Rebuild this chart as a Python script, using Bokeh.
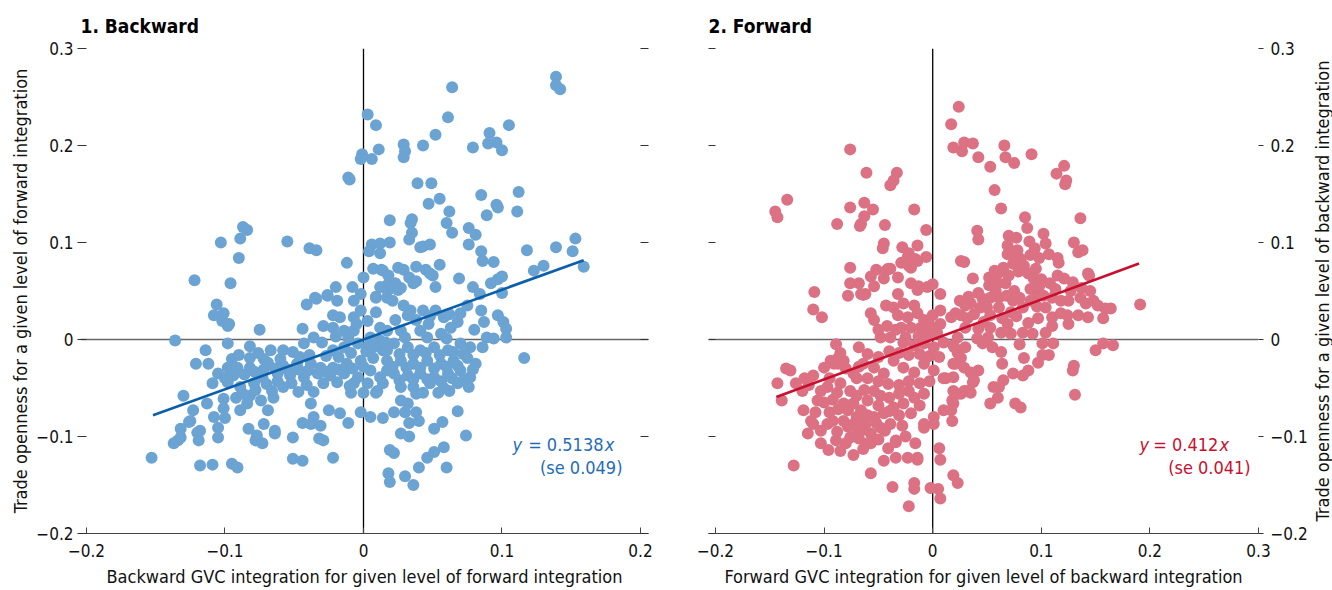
import math
from bokeh.plotting import figure
from bokeh.models import LinearAxis, FixedTicker, Span, Label, Range1d, CustomJSTickFormatter
from bokeh.layouts import row
from bokeh.embed import file_html
from bokeh.resources import INLINE

FONT = "'Liberation Sans Narrow', 'DejaVu Sans Condensed', 'Roboto', sans-serif"

# ---------------- data ----------------
backward_points = [
    (0.139, 0.271), (0.139, 0.262), (0.142, 0.258), (0.064, 0.260), (0.003, 0.232), (0.009, 0.221),
    (0.061, 0.229), (0.052, 0.211), (0.043, 0.200), (0.029, 0.201), (0.030, 0.194), (0.029, 0.188),
    (0.011, 0.196), (0.006, 0.186), (-0.001, 0.191), (-0.002, 0.186), (-0.011, 0.167), (-0.010, 0.165),
    (0.079, 0.198), (0.091, 0.213), (0.090, 0.202), (0.096, 0.203), (0.100, 0.195), (0.105, 0.221),
    (0.039, 0.161), (0.049, 0.161), (0.047, 0.140), (0.055, 0.145), (0.062, 0.132), (0.085, 0.149),
    (0.112, 0.152), (0.096, 0.139), (0.097, 0.136), (0.089, 0.128), (0.111, 0.132),
    (0.019, 0.123), (0.035, 0.124), (0.034, 0.120), (0.035, 0.110), (0.033, 0.103), (0.060, 0.120),
    (0.064, 0.110), (0.076, 0.115), (0.081, 0.108), (0.076, 0.098), (0.085, 0.091), (0.086, 0.081),
    (0.094, 0.080), (0.118, 0.092), (0.139, 0.095), (0.151, 0.091), (0.153, 0.104), (0.159, 0.075),
    (0.123, 0.071), (0.130, 0.076),
    (0.006, 0.098), (0.012, 0.099), (0.019, 0.100), (0.004, 0.091), (0.012, 0.089), (0.043, 0.096),
    (0.048, 0.098), (0.041, 0.095), (-0.039, 0.094), (-0.034, 0.092), (-0.012, 0.079), (0.000, 0.064),
    (0.007, 0.073), (0.013, 0.072), (0.018, 0.066), (0.025, 0.074), (0.029, 0.072), (0.038, 0.075),
    (0.045, 0.072), (0.050, 0.066), (0.055, 0.077), (0.033, 0.064), (0.038, 0.060), (0.017, 0.056),
    (0.023, 0.058), (0.025, 0.051), (0.017, 0.051), (0.052, 0.054), (0.069, 0.063), (0.079, 0.054),
    (0.084, 0.047), (0.092, 0.058), (0.097, 0.062), (0.100, 0.065), (0.100, 0.048), (0.048, 0.068),
    (0.036, 0.058), (0.027, 0.053),
    (-0.020, 0.054), (-0.008, 0.054), (-0.002, 0.047), (-0.035, 0.043), (-0.026, 0.046), (0.009, 0.044),
    (0.014, 0.071), (0.012, 0.054), (0.017, 0.043), (0.009, 0.043), (0.009, 0.028),
    (-0.087, 0.116), (-0.084, 0.113), (-0.089, 0.104), (-0.103, 0.100), (-0.055, 0.101), (-0.090, 0.084),
    (-0.122, 0.061), (-0.096, 0.058),
    (-0.106, 0.036), (-0.108, 0.025), (-0.101, 0.027), (-0.098, 0.014), (-0.102, 0.019), (-0.097, 0.016),
    (-0.075, 0.010), (-0.136, -0.001), (-0.098, -0.004), (-0.082, -0.007), (-0.114, -0.011),
    (-0.121, -0.025), (-0.112, -0.025),
    (-0.041, 0.036), (-0.034, 0.042), (-0.026, 0.045), (-0.019, 0.040), (-0.007, 0.040), (-0.022, 0.025),
    (-0.017, 0.023), (-0.007, 0.023), (-0.002, 0.030), (-0.029, 0.014), (-0.022, 0.012), (-0.014, 0.009),
    (-0.044, 0.011), (-0.007, 0.009),
    (-0.105, -0.035), (-0.109, -0.045), (-0.098, -0.029), (-0.095, -0.020), (-0.090, -0.016),
    (-0.098, -0.044), (-0.091, -0.029), (-0.082, -0.019), (-0.076, -0.014), (-0.067, -0.011),
    (-0.058, -0.011), (-0.051, -0.013), (-0.043, -0.004), (-0.036, 0.002), (-0.030, -0.003),
    (-0.022, -0.011), (-0.014, -0.008), (-0.004, -0.004), (-0.082, -0.029), (-0.069, -0.024),
    (-0.058, -0.027), (-0.048, -0.025), (-0.038, -0.025), (-0.031, -0.029), (-0.022, -0.029),
    (-0.012, -0.025), (-0.002, -0.022), (0.007, -0.019), (0.014, -0.011), (-0.073, -0.039),
    (-0.062, -0.035), (-0.053, -0.037), (-0.043, -0.039), (-0.033, -0.035), (-0.024, -0.037),
    (-0.014, -0.035), (-0.004, -0.039), (0.005, -0.032), (0.012, -0.039), (-0.089, -0.049),
    (-0.079, -0.045), (-0.066, -0.053), (-0.058, -0.049), (-0.047, -0.054), (-0.036, -0.054),
    (-0.007, -0.045), (0.003, -0.045), (0.010, -0.053), (-0.130, -0.058), (-0.113, -0.066),
    (-0.101, -0.061), (-0.092, -0.060), (-0.082, -0.058), (-0.101, -0.071), (-0.089, -0.073),
    (-0.084, -0.066), (-0.069, -0.073), (-0.074, -0.063), (-0.065, -0.060), (-0.038, -0.066),
    (-0.009, -0.055), (0.000, -0.055), (-0.123, -0.073), (-0.125, -0.084), (-0.108, -0.080),
    (-0.100, -0.081), (-0.132, -0.092), (-0.118, -0.094), (-0.105, -0.091), (-0.134, -0.104),
    (-0.137, -0.107), (-0.119, -0.104), (-0.105, -0.101), (-0.083, -0.092), (-0.078, -0.104),
    (-0.073, -0.107), (-0.072, -0.087), (-0.064, -0.094), (-0.051, -0.101), (-0.044, -0.086),
    (-0.036, -0.080), (-0.038, -0.087), (-0.031, -0.089), (-0.032, -0.102), (-0.029, -0.104),
    (-0.025, -0.073), (-0.017, -0.076), (-0.011, -0.086), (-0.002, -0.075), (0.005, -0.080),
    (0.014, -0.081), (-0.022, -0.122), (-0.051, -0.123), (-0.044, -0.125), (-0.153, -0.122),
    (-0.118, -0.130), (-0.109, -0.129), (-0.095, -0.128), (-0.091, -0.132), (0.019, -0.114),
    (0.018, -0.138), (0.019, -0.147),
    (-0.126, -0.085), (-0.132, -0.101), (-0.120, -0.096), (-0.077, -0.099), (-0.064, -0.097),
    (0.021, 0.053), (0.021, 0.040), (0.029, 0.035), (0.034, 0.030), (0.043, 0.030), (0.052, 0.030),
    (0.023, 0.020), (0.038, 0.020), (0.047, 0.016), (0.058, 0.023), (0.068, 0.018), (0.070, 0.027),
    (0.087, 0.018), (0.097, 0.025), (0.101, 0.018), (0.103, 0.011), (0.103, 0.002), (0.089, 0.002),
    (0.094, 0.001), (0.086, -0.008), (0.116, -0.019), (0.012, 0.012), (0.017, 0.009), (0.027, 0.009),
    (0.041, 0.009), (0.056, 0.006), (0.063, 0.012),
    (0.022, -0.004), (0.032, -0.008), (0.041, -0.011), (0.051, -0.008), (0.061, -0.011), (0.070, -0.004),
    (0.077, -0.008), (0.017, -0.022), (0.027, -0.022), (0.036, -0.025), (0.046, -0.022), (0.056, -0.025),
    (0.065, -0.022), (0.075, -0.019), (0.081, -0.025), (0.022, -0.035), (0.032, -0.037), (0.041, -0.035),
    (0.051, -0.039), (0.061, -0.035), (0.070, -0.032), (0.077, -0.039), (0.027, -0.049), (0.036, -0.049),
    (0.048, -0.045), (0.058, -0.050), (0.068, -0.045), (0.076, -0.049), (0.038, -0.056), (0.054, -0.055),
    (0.014, -0.045), (0.027, -0.063), (0.032, -0.066), (0.022, -0.075), (0.030, -0.075), (0.038, -0.075),
    (0.033, -0.086), (0.040, -0.084), (0.068, -0.074), (0.057, -0.085), (0.051, -0.092), (0.027, -0.097),
    (0.033, -0.100), (0.074, -0.099), (0.022, -0.117), (0.046, -0.122), (0.051, -0.116), (0.058, -0.111),
    (0.040, -0.132), (0.060, -0.132), (0.030, -0.141), (0.036, -0.150),
    (0.005, 0.002), (0.012, -0.001), (0.017, -0.011), (0.007, -0.008), (0.017, -0.032), (0.009, -0.055),
    (-0.100, -0.040), (-0.094, -0.037), (-0.086, -0.036), (-0.079, -0.033), (-0.072, -0.031),
    (-0.064, -0.030), (-0.055, -0.031), (-0.047, -0.031), (-0.040, -0.032), (-0.028, -0.033),
    (-0.018, -0.031), (-0.008, -0.030), (0.000, -0.028), (-0.087, -0.056), (-0.078, -0.052),
    (-0.070, -0.046), (-0.062, -0.043), (-0.052, -0.045), (-0.041, -0.047), (-0.029, -0.045),
    (-0.019, -0.044), (-0.010, -0.048), (-0.046, -0.018), (-0.039, -0.016), (-0.027, -0.017),
    (-0.018, -0.018), (-0.009, -0.014), (0.002, -0.012), (-0.060, -0.020), (-0.072, -0.020),
    (-0.011, 0.002), (-0.020, 0.003), (-0.005, 0.016), (0.003, 0.019), (0.004, -0.006),
    (0.026, -0.015), (0.036, -0.016), (0.045, -0.014), (0.055, -0.016), (0.065, -0.013), (0.072, -0.015),
    (0.031, -0.029), (0.041, -0.029), (0.051, -0.030), (0.060, -0.028), (0.068, -0.027), (0.079, -0.031),
    (0.026, -0.042), (0.036, -0.041), (0.046, -0.041), (0.056, -0.043), (0.064, -0.040), (0.072, -0.042),
    (0.043, -0.055), (0.062, -0.053), (0.021, -0.028), (0.016, -0.003), (0.030, 0.002), (0.046, 0.002),
    (0.060, 0.001), (0.032, 0.025), (0.048, 0.024), (0.062, 0.026), (0.080, 0.010), (0.075, 0.035),
    (0.085, 0.030),
]

forward_points = [
    (0.024, 0.240), (0.017, 0.222), (0.019, 0.198), (0.027, 0.194), (0.029, 0.203), (0.037, 0.202),
    (0.042, 0.188), (0.053, 0.178), (0.057, 0.154), (0.063, 0.135), (0.042, 0.103), (0.029, 0.080),
    (0.037, 0.063), (-0.076, 0.196), (-0.061, 0.172), (-0.033, 0.172), (-0.036, 0.164), (-0.039, 0.159),
    (-0.134, 0.144), (-0.145, 0.132), (-0.143, 0.126), (-0.076, 0.136), (-0.063, 0.141), (-0.055, 0.134),
    (-0.063, 0.127), (-0.067, 0.117), (-0.088, 0.119), (-0.044, 0.118), (-0.017, 0.134), (-0.006, 0.113),
    (-0.045, 0.099), (-0.046, 0.094), (-0.028, 0.095), (-0.014, 0.097), (-0.022, 0.089), (-0.006, 0.085),
    (-0.029, 0.079), (-0.022, 0.076), (-0.016, 0.083), (-0.076, 0.074), (-0.052, 0.072), (-0.041, 0.073),
    (-0.057, 0.065), (-0.032, 0.064), (-0.076, 0.058), (-0.068, 0.058), (-0.054, 0.055), (-0.109, 0.049),
    (-0.078, 0.045), (-0.066, 0.047), (-0.062, 0.047), (-0.032, 0.047), (-0.020, 0.058), (-0.013, 0.055),
    (0.000, 0.057), (0.007, 0.047),
    (-0.066, 0.119), (-0.023, 0.085), (-0.020, 0.074), (-0.014, 0.081), (-0.043, 0.071), (-0.039, 0.073),
    (-0.045, 0.063), (-0.064, 0.046),
    (-0.110, 0.031), (-0.102, 0.023), (-0.014, 0.051), (-0.005, 0.054), (-0.057, 0.027), (-0.054, 0.020),
    (-0.043, 0.035), (-0.036, 0.033), (-0.027, 0.037), (-0.017, 0.035), (-0.032, 0.025), (-0.023, 0.023),
    (-0.014, 0.027), (-0.008, 0.020), (0.000, 0.025), (0.007, 0.030), (-0.029, 0.012), (-0.020, 0.012),
    (-0.011, 0.012), (-0.002, 0.014), (0.007, 0.016), (0.017, 0.023), (-0.048, 0.002), (-0.039, 0.002),
    (-0.089, -0.005), (-0.068, -0.008), (-0.027, -0.003), (-0.017, -0.006), (-0.008, -0.004),
    (0.001, -0.008), (0.010, -0.003), (0.019, -0.006), (-0.085, -0.014), (-0.094, -0.022),
    (-0.087, -0.025), (-0.082, -0.022), (-0.100, -0.029), (-0.110, -0.037), (-0.114, -0.047),
    (-0.135, -0.030), (-0.131, -0.032), (-0.143, -0.045), (-0.139, -0.063), (-0.119, -0.073),
    (-0.112, -0.084), (-0.115, -0.097), (-0.110, -0.087), (-0.103, -0.094), (-0.097, -0.087),
    (-0.092, -0.084), (-0.103, -0.107), (-0.096, -0.114), (-0.089, -0.104), (-0.080, -0.107),
    (-0.073, -0.119), (-0.128, -0.130), (-0.068, -0.102), (-0.060, -0.107), (-0.103, -0.053),
    (-0.097, -0.049), (-0.106, -0.063), (-0.085, -0.045), (-0.076, -0.053), (-0.064, -0.025),
    (-0.054, -0.029), (-0.045, -0.035), (-0.036, -0.022), (-0.027, -0.029), (-0.017, -0.034),
    (-0.008, -0.025), (0.001, -0.032), (0.010, -0.040), (-0.082, -0.066), (-0.078, -0.073),
    (-0.073, -0.066), (-0.066, -0.073), (-0.060, -0.063), (-0.054, -0.053), (-0.082, -0.084),
    (-0.073, -0.087), (-0.064, -0.084), (-0.054, -0.080), (-0.045, -0.076), (-0.036, -0.070),
    (-0.027, -0.066), (-0.017, -0.060), (-0.008, -0.056), (-0.066, -0.094), (-0.057, -0.097),
    (-0.048, -0.091), (-0.039, -0.087), (-0.076, -0.101), (-0.057, -0.107), (-0.028, -0.089),
    (-0.034, -0.104), (-0.016, -0.107), (-0.041, -0.112), (-0.034, -0.122), (-0.023, -0.122),
    (-0.014, -0.122), (-0.057, -0.138), (-0.037, -0.152), (-0.017, -0.148), (-0.017, -0.154),
    (-0.022, -0.172), (-0.002, -0.153), (0.007, -0.164), (0.005, -0.154), (0.006, -0.112),
    (0.007, -0.124), (-0.008, -0.087), (0.001, -0.080), (0.010, -0.073), (0.019, -0.066),
    (0.019, -0.140), (0.023, -0.148), (0.012, -0.040), (0.019, -0.053), (0.019, -0.025), (0.023, -0.014),
    (-0.014, -0.124), (-0.034, -0.106), (0.001, -0.087), (-0.008, -0.091), (-0.091, -0.025), (-0.087, -0.019),
    (0.085, 0.126), (0.087, 0.115), (0.070, 0.107), (0.077, 0.105), (0.069, 0.097), (0.069, 0.088),
    (0.078, 0.092), (0.081, 0.083), (0.089, 0.101), (0.090, 0.087), (0.084, 0.076), (0.095, 0.073),
    (0.093, 0.063), (0.065, 0.074), (0.102, 0.109), (0.104, 0.099), (0.107, 0.088), (0.115, 0.084),
    (0.116, 0.079), (0.130, 0.100), (0.134, 0.090), (0.138, 0.092), (0.136, 0.125), (0.115, 0.066),
    (0.121, 0.063), (0.129, 0.059), (0.143, 0.068), (0.144, 0.066), (0.096, 0.046), (0.052, 0.056),
    (0.060, 0.058), (0.067, 0.058), (0.058, 0.050), (0.053, 0.043), (0.061, 0.043), (0.046, 0.042),
    (0.044, 0.033), (0.035, 0.037), (0.030, 0.035), (0.083, 0.033), (0.104, 0.033), (0.102, 0.045),
    (0.110, 0.043), (0.118, 0.040), (0.125, 0.040), (0.136, 0.043), (0.141, 0.037), (0.148, 0.040),
    (0.152, 0.035), (0.159, 0.032), (0.164, 0.032), (0.157, 0.022), (0.110, 0.023), (0.118, 0.027),
    (0.124, 0.025), (0.125, 0.016), (0.134, 0.025), (0.143, 0.023), (0.110, 0.014), (0.191, 0.036),
    (0.021, 0.027), (0.026, 0.025), (0.032, 0.022), (0.030, 0.012), (0.053, 0.025), (0.064, 0.022),
    (0.069, 0.016), (0.072, 0.006), (0.063, 0.007), (0.053, 0.012), (0.047, 0.018), (0.042, 0.011),
    (0.041, 0.001), (0.046, -0.004), (0.051, 0.002), (0.055, -0.008), (0.063, -0.013), (0.083, 0.007),
    (0.104, 0.007), (0.101, -0.004), (0.111, -0.004), (0.023, 0.002), (0.020, -0.008), (0.030, -0.008),
    (0.026, -0.019), (0.021, -0.025), (0.029, -0.029), (0.035, -0.034), (0.037, -0.044), (0.029, -0.053),
    (0.023, -0.056), (0.035, -0.055), (0.019, -0.039), (0.018, -0.063), (0.017, -0.073), (0.018, -0.084),
    (0.064, -0.025), (0.084, -0.019), (0.065, -0.042), (0.074, -0.035), (0.083, -0.037), (0.088, -0.032),
    (0.097, -0.024), (0.101, -0.016), (0.107, -0.016), (0.056, -0.049), (0.060, -0.060), (0.053, -0.066),
    (0.076, -0.066), (0.081, -0.070), (0.130, -0.027), (0.129, -0.032), (0.131, -0.057), (0.150, -0.011),
    (0.157, -0.004), (0.166, -0.006),
    (0.066, 0.200), (0.067, 0.188), (0.075, 0.182), (0.091, 0.191), (0.121, 0.179), (0.114, 0.171),
    (0.123, 0.164), (0.122, 0.160), (0.041, 0.112), (0.026, 0.081),
    (0.061, -0.049), (0.042, -0.032), (0.038, -0.042), (0.032, -0.053), (0.026, -0.056),
    (-0.050, 0.010), (-0.042, 0.014), (-0.034, 0.010), (-0.025, 0.002), (-0.013, 0.003), (-0.004, 0.005),
    (0.004, 0.007), (-0.060, -0.015), (-0.050, -0.018), (-0.040, -0.012), (-0.031, -0.014),
    (-0.022, -0.016), (-0.012, -0.015), (-0.003, -0.017), (0.006, -0.018), (-0.070, -0.040),
    (-0.060, -0.040), (-0.050, -0.043), (-0.041, -0.046), (-0.031, -0.047), (-0.022, -0.043),
    (-0.012, -0.045), (-0.003, -0.043), (-0.092, -0.062), (-0.088, -0.055), (-0.070, -0.058),
    (-0.063, -0.052), (-0.048, -0.058), (-0.040, -0.060), (-0.031, -0.056), (-0.022, -0.053),
    (-0.095, -0.075), (-0.087, -0.072), (-0.070, -0.080), (-0.060, -0.078), (-0.050, -0.068),
    (-0.040, -0.074), (-0.031, -0.078), (-0.020, -0.076), (-0.012, -0.068), (-0.088, -0.095),
    (-0.078, -0.090), (-0.070, -0.092), (-0.062, -0.088), (-0.052, -0.086), (-0.044, -0.094),
    (-0.085, -0.115), (-0.064, -0.113), (-0.050, -0.103), (-0.045, -0.125), (-0.025, -0.100),
    (-0.100, -0.065), (-0.108, -0.075), (-0.120, -0.053), (-0.126, -0.045), (-0.118, -0.040),
    (-0.095, -0.040), (-0.080, -0.030), (-0.073, -0.035), (-0.068, -0.028),
    (0.060, 0.068), (0.070, 0.066), (0.079, 0.070), (0.074, 0.078), (0.088, 0.068), (0.100, 0.062),
    (0.108, 0.058), (0.098, 0.055), (0.090, 0.052), (0.075, 0.050), (0.068, 0.045), (0.080, 0.043),
    (0.090, 0.040), (0.096, 0.034), (0.113, 0.052), (0.127, 0.050), (0.137, 0.053), (0.145, 0.050),
    (0.097, 0.022), (0.088, 0.017), (0.077, 0.024), (0.092, 0.006), (0.080, -0.005), (0.074, 0.040),
    (0.061, 0.033), (0.072, 0.028), (0.050, 0.033), (0.038, 0.026), (0.042, 0.048), (0.033, 0.044),
    (0.025, 0.040), (0.052, 0.064), (0.057, 0.071), (0.075, 0.090), (0.098, 0.084), (0.094, 0.094),
]

backward_slope = 0.5138
forward_slope = 0.412
backward_fit_x = [-0.152, 0.159]
forward_fit_x = [-0.144, 0.190]

y_ticks = [-0.2, -0.1, 0.0, 0.1, 0.2, 0.3]
backward_x_ticks = [-0.2, -0.1, 0.0, 0.1, 0.2]
forward_x_ticks = [-0.2, -0.1, 0.0, 0.1, 0.2, 0.3]

titles = ["1. Backward", "2. Forward"]
x_labels = ["Backward GVC integration for given level of forward integration",
            "Forward GVC integration for given level of backward integration"]
y_labels = ["Trade openness for a given level of forward integration",
            "Trade openness for a given level of backward integration"]
eq_slopes = ["= 0.5138", "= 0.412"]
eq_se = ["(se 0.049)", "(se 0.041)"]

BACK_PT, BACK_LINE, BACK_TEXT = "#6BA3D3", "#0B5FAA", "#1F6DB6"
FWD_PT, FWD_LINE, FWD_TEXT = "#DC7183", "#C8102E", "#C8102E"

fmt = CustomJSTickFormatter(code="""
    if (Math.abs(tick) < 1e-9) { return '0'; }
    return (tick < 0 ? '\u2212' : '') + Math.abs(tick).toFixed(1);
""")
blank_fmt = CustomJSTickFormatter(code="return '';")

TICK_SIZE = "17px"
LAB_SIZE = "18px"


def style_bottom(ax, ticks, label):
    ax.ticker = FixedTicker(ticks=ticks)
    ax.formatter = fmt
    ax.axis_line_color = "#444444"
    ax.major_tick_line_color = "#444444"
    ax.major_tick_in = 6
    ax.major_tick_out = 0
    ax.minor_tick_line_color = None
    ax.major_label_text_font = FONT
    ax.major_label_text_font_size = TICK_SIZE
    ax.major_label_text_color = "#111111"
    ax.major_label_standoff = 10
    ax.axis_label = label
    ax.axis_label_text_font = FONT
    ax.axis_label_text_font_size = LAB_SIZE
    ax.axis_label_text_font_style = "normal"
    ax.axis_label_text_color = "#111111"
    ax.axis_label_standoff = 6


def style_y(ax, tick_in, tick_out, label=None, show_labels=True, label_standoff=10, tick_standoff=4):
    ax.ticker = FixedTicker(ticks=y_ticks)
    ax.axis_line_color = None
    ax.major_tick_line_color = "#333333"
    ax.major_tick_in = tick_in
    ax.major_tick_out = tick_out
    ax.minor_tick_line_color = None
    ax.major_label_text_font = FONT
    ax.major_label_text_color = "#111111"
    ax.major_label_text_font_size = TICK_SIZE
    if show_labels:
        ax.formatter = fmt
        ax.major_label_standoff = tick_standoff
    else:
        ax.formatter = blank_fmt
        ax.major_label_standoff = 0
    if label:
        ax.axis_label = label
        ax.axis_label_text_font = FONT
        ax.axis_label_text_font_size = LAB_SIZE
        ax.axis_label_text_font_style = "normal"
        ax.axis_label_text_color = "#111111"
        ax.axis_label_standoff = label_standoff


def base_fig(width, x_range, mbl, mbr, title):
    p = figure(width=width, height=590, x_range=x_range, y_range=Range1d(-0.2, 0.3),
               output_backend="svg", toolbar_location=None,
               min_border_left=mbl, min_border_right=mbr, min_border_top=48, min_border_bottom=57,
               x_axis_location=None, y_axis_location=None)
    p.grid.visible = False
    p.outline_line_color = None
    p.background_fill_color = "white"
    p.border_fill_color = "white"
    p.title.text = title
    p.title.text_font = FONT
    p.title.text_font_size = "19px"
    p.title.text_font_style = "bold"
    p.title.text_color = "#000000"
    p.title.align = "left"
    p.title.standoff = 23
    p.add_layout(Span(location=0, dimension="width", line_color="#666666", line_width=1.3, level="underlay"))
    p.add_layout(Span(location=0, dimension="height", line_color="#000000", line_width=1.3, level="underlay"))
    return p


# ---------------- left panel ----------------
bx = [pt[0] for pt in backward_points]
by = [pt[1] for pt in backward_points]
p1 = base_fig(668, Range1d(-0.20433, 0.20578), 80, 20, titles[0])
bax = LinearAxis()
style_bottom(bax, backward_x_ticks, x_labels[0])
p1.add_layout(bax, "below")
lax = LinearAxis()
style_y(lax, 6, 3, y_labels[0], True, 2, 4)
p1.add_layout(lax, "left")
rax = LinearAxis()
style_y(rax, 8, 0, None, False)
p1.add_layout(rax, "right")

p1.scatter(x=bx, y=by, size=12, fill_color=BACK_PT, line_color=None)
p1.line(x=backward_fit_x, y=[backward_slope * v for v in backward_fit_x], line_color=BACK_LINE, line_width=2.6)

lab_kw = dict(text_font=FONT, text_font_size=LAB_SIZE, text_baseline="middle")
p1.add_layout(Label(x=0.1076, y=-0.108, text="y", text_font_style="italic", text_align="left",
                    text_color=BACK_TEXT, **lab_kw))
p1.add_layout(Label(x=0.1733, y=-0.108, text=eq_slopes[0], text_align="right", text_color=BACK_TEXT, **lab_kw))
p1.add_layout(Label(x=0.1742, y=-0.108, text="x", text_font_style="italic", text_align="left",
                    text_color=BACK_TEXT, **lab_kw))
p1.add_layout(Label(x=0.1870, y=-0.132, text=eq_se[0], text_align="right", text_color=BACK_TEXT, **lab_kw))

# ---------------- right panel ----------------
fx = [pt[0] for pt in forward_points]
fy = [pt[1] for pt in forward_points]
p2 = base_fig(644, Range1d(-0.20645, 0.3), 40, 54, titles[1])
bax2 = LinearAxis()
style_bottom(bax2, forward_x_ticks, x_labels[1])
p2.add_layout(bax2, "below")
lax2 = LinearAxis()
style_y(lax2, 7, 0, None, False)
p2.add_layout(lax2, "left")
rax2 = LinearAxis()
style_y(rax2, 0, 5, None, True, 10, 7)
p2.add_layout(rax2, "right")

p2.scatter(x=fx, y=fy, size=12, fill_color=FWD_PT, line_color=None)
p2.line(x=forward_fit_x, y=[forward_slope * v for v in forward_fit_x], line_color=FWD_LINE, line_width=2.6)

p2.add_layout(Label(x=0.1905, y=-0.108, text="y", text_font_style="italic", text_align="left",
                    text_color=FWD_TEXT, **lab_kw))
p2.add_layout(Label(x=0.2630, y=-0.108, text=eq_slopes[1], text_align="right", text_color=FWD_TEXT, **lab_kw))
p2.add_layout(Label(x=0.2640, y=-0.108, text="x", text_font_style="italic", text_align="left",
                    text_color=FWD_TEXT, **lab_kw))
p2.add_layout(Label(x=0.2928, y=-0.132, text=eq_se[1], text_align="right", text_color=FWD_TEXT, **lab_kw))

# ---------------- strip that carries the right-hand axis title (reads bottom-to-top) ----------------
p3 = figure(width=20, height=590, x_range=Range1d(0, 1), y_range=Range1d(-0.2, 0.3),
            output_backend="svg", toolbar_location=None,
            min_border_left=18, min_border_right=0, min_border_top=48, min_border_bottom=57,
            x_axis_location=None, y_axis_location=None)
p3.grid.visible = False
p3.outline_line_color = None
p3.border_fill_color = "white"
p3.background_fill_color = "white"
tax = LinearAxis(ticker=FixedTicker(ticks=[]), formatter=blank_fmt, axis_line_color=None,
                 major_tick_line_color=None, minor_tick_line_color=None,
                 major_label_text_font_size=TICK_SIZE, major_label_standoff=0)
tax.axis_label = y_labels[1]
tax.axis_label_text_font = FONT
tax.axis_label_text_font_size = LAB_SIZE
tax.axis_label_text_font_style = "normal"
tax.axis_label_text_color = "#111111"
tax.axis_label_standoff = 0
p3.add_layout(tax, "left")

layout = row(p1, p2, p3)
open("out.html", "w").write(file_html(layout, INLINE))
